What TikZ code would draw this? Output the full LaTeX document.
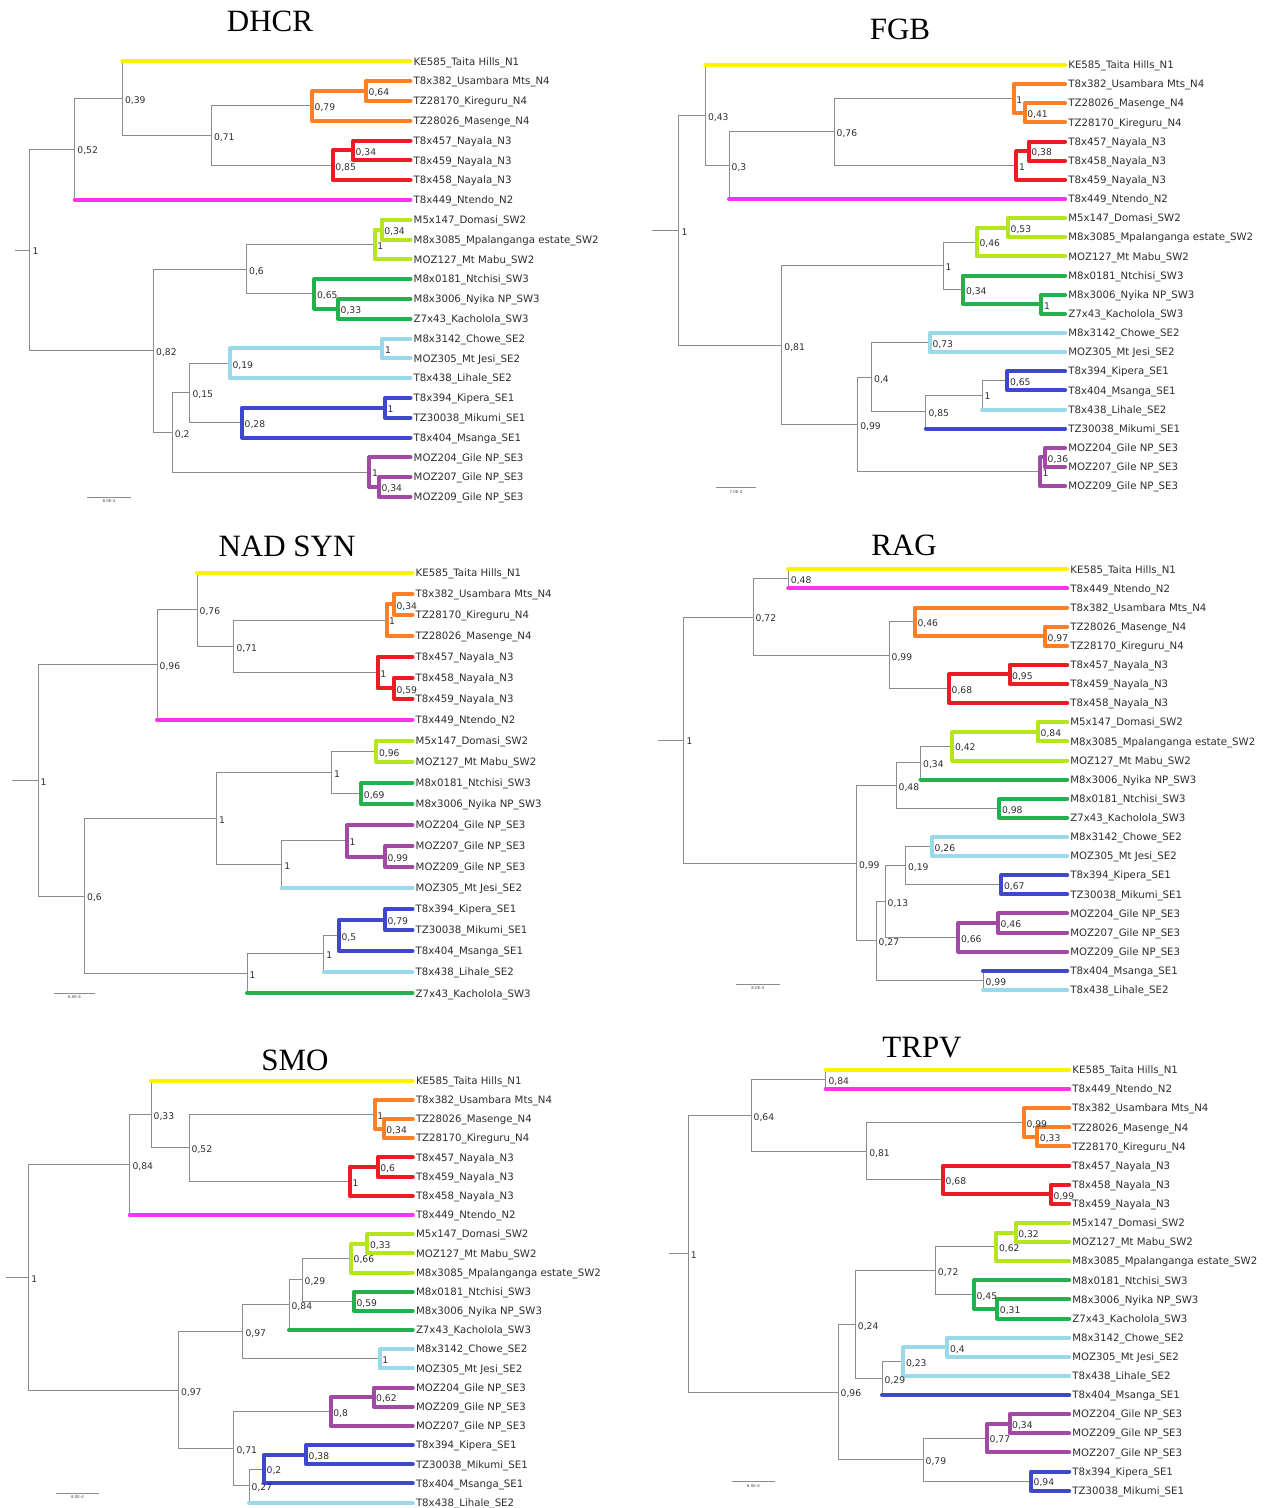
\documentclass[tikz,border=0pt]{standalone}
\usepackage{fontspec}
\setmainfont{DejaVu Sans}
\newfontfamily\titlefont{Liberation Serif}
\usetikzlibrary{backgrounds}
\definecolor{brgray}{HTML}{8C8C8C}
\definecolor{nY}{HTML}{FFF200}
\definecolor{nO}{HTML}{FF7F27}
\definecolor{nR}{HTML}{ED1C24}
\definecolor{nM}{HTML}{FF33EE}
\definecolor{nL}{HTML}{B5E61D}
\definecolor{nG}{HTML}{22B14C}
\definecolor{nS}{HTML}{99D9EA}
\definecolor{nB}{HTML}{3F48CC}
\definecolor{nP}{HTML}{A349A4}

\begin{document}
\begin{tikzpicture}[x=1pt,y=-1pt,
leaf/.style={anchor=west,inner sep=1.5pt,text=black!82,font=\fontsize{10.2}{12}\selectfont,text height=7.4pt,text depth=0pt},
sup/.style={anchor=west,xshift=1.5pt,yshift=-1.5pt,inner sep=1pt,text=black!82,font=\fontsize{9.2}{11}\selectfont,text height=6.6pt,text depth=0pt},
ttl/.style={font=\titlefont\fontsize{31}{34}\selectfont,inner sep=0pt},
br/.style={draw=brgray,line width=1pt},
clade/.style={line width=4pt,line cap=round,line join=round,shorten >=1.5pt},
cY/.style={clade,draw=nY}, cO/.style={clade,draw=nO}, cR/.style={clade,draw=nR},
cM/.style={clade,draw=nM}, cL/.style={clade,draw=nL}, cG/.style={clade,draw=nG},
cS/.style={clade,draw=nS}, cB/.style={clade,draw=nB}, cP/.style={clade,draw=nP},
scalebar/.style={font=\fontsize{4}{5}\selectfont,text=black!70,inner sep=1pt}]

\begin{scope}[on background layer]
 \fill[white] (0,0) rectangle (1273,1508);
\end{scope}
\useasboundingbox (0,0) rectangle (1273,1508);

% ---------------- DHCR ----------------
\node[ttl] (tD) at (270,21) {DHCR};
\foreach \lab [count=\i] in {KE585\_Taita Hills\_N1, T8x382\_Usambara Mts\_N4, TZ28170\_Kireguru\_N4, TZ28026\_Masenge\_N4, T8x457\_Nayala\_N3, T8x459\_Nayala\_N3, T8x458\_Nayala\_N3, T8x449\_Ntendo\_N2, M5x147\_Domasi\_SW2, M8x3085\_Mpalanganga estate\_SW2, MOZ127\_Mt Mabu\_SW2, M8x0181\_Ntchisi\_SW3, M8x3006\_Nyika NP\_SW3, Z7x43\_Kacholola\_SW3, M8x3142\_Chowe\_SE2, MOZ305\_Mt Jesi\_SE2, T8x438\_Lihale\_SE2, T8x394\_Kipera\_SE1, TZ30038\_Mikumi\_SE1, T8x404\_Msanga\_SE1, MOZ204\_Gile NP\_SE3, MOZ207\_Gile NP\_SE3, MOZ209\_Gile NP\_SE3}
 \node[leaf] (D\i) at (412,{61.3+19.8*(\i-1)}) {\lab};
\foreach \N/\X/\K/\V in {Da/29.8/10.531/1, Db/74.7/5.4375/{0,52}, Dc/122.4/2.875/{0,39}, De/211.4/4.75/{0,71}, Df/312/3.25/{0,79}, Dg/366/2.5/{0,64}, Dh/332.7/6.25/{0,85}, Di/353/5.5/{0,34}, Dj/153.5/15.625/{0,82}, Dk/246.5/11.5/{0,6}, Dl/374.7/10.25/1, Dm/381.6/9.5/{0,34}, Dn/314.3/12.75/{0,65}, Do/338/13.5/{0,33}, Dp/189.8/17.75/{0,15}, Dq/229.8/16.25/{0,19}, Dr/382.4/15.5/1, Ds/242/19.25/{0,28}, Dt/385/18.5/1, Du/369.4/21.75/1, Dv/378.8/22.5/{0,34}, Dw/172.2/19.75/{0,2}} {
 \coordinate (\N) at (\X,{61.3+19.8*(\K-1)});
 \node[sup] (\N l) at (\N) {\V};
}
\path (Da) ++(-15,0) coordinate (D0);
\begin{scope}[on background layer]
 \draw[br] (D0) -- (Da);
 \foreach \P/\C in {Da/Db, Da/Dj, Db/Dc, Db/D8, Dc/D1, Dc/De, De/Df, De/Dh, Dj/Dk, Dj/Dw, Dk/Dl, Dk/Dn, Dw/Dp, Dw/Du, Dp/Dq, Dp/Ds}
  \draw[br] (\P) |- (\C);
 \foreach \P/\C/\s in {Df/Dg/cO, Df/D4/cO, Dg/D2/cO, Dg/D3/cO, Dh/Di/cR, Dh/D7/cR, Di/D5/cR, Di/D6/cR, Dl/Dm/cL, Dl/D11/cL, Dm/D9/cL, Dm/D10/cL, Dn/D12/cG, Dn/Do/cG, Do/D13/cG, Do/D14/cG, Dq/Dr/cS, Dq/D17/cS, Dr/D15/cS, Dr/D16/cS, Ds/Dt/cB, Ds/D20/cB, Dt/D18/cB, Dt/D19/cB, Du/D21/cP, Du/Dv/cP, Dv/D22/cP, Dv/D23/cP}
  \draw[\s] (\P) |- (\C);
 \foreach \P/\C/\s in {Dc/D1/cY, Db/D8/cM}
  \draw[\s] (\P |- \C) -- (\C);
\end{scope}
\draw[br,line width=0.8pt] (87,497.3) -- node[scalebar,below=1pt] (sD) {8.0E-4} (131,497.3);

% ---------------- FGB ----------------
\node[ttl] (tF) at (900,29) {FGB};
\foreach \lab [count=\i] in {KE585\_Taita Hills\_N1, T8x382\_Usambara Mts\_N4, TZ28026\_Masenge\_N4, TZ28170\_Kireguru\_N4, T8x457\_Nayala\_N3, T8x458\_Nayala\_N3, T8x459\_Nayala\_N3, T8x449\_Ntendo\_N2, M5x147\_Domasi\_SW2, M8x3085\_Mpalanganga estate\_SW2, MOZ127\_Mt Mabu\_SW2, M8x0181\_Ntchisi\_SW3, M8x3006\_Nyika NP\_SW3, Z7x43\_Kacholola\_SW3, M8x3142\_Chowe\_SE2, MOZ305\_Mt Jesi\_SE2, T8x394\_Kipera\_SE1, T8x404\_Msanga\_SE1, T8x438\_Lihale\_SE2, TZ30038\_Mikumi\_SE1, MOZ204\_Gile NP\_SE3, MOZ207\_Gile NP\_SE3, MOZ209\_Gile NP\_SE3}
 \node[leaf] (F\i) at (1066.6,{65+19.14*(\i-1)}) {\lab};
\foreach \N/\X/\K/\V in {Fa/678.9/9.633/1, Fb/705.4/3.625/{0,43}, Fc/729/6.25/{0,3}, Fd/834/4.5/{0,76}, Fe/1013.6/2.75/1, Ff/1024.6/3.5/{0,41}, Fg/1016.4/6.25/1, Fh/1028.7/5.5/{0,38}, Fp/781.7/15.64/{0,81}, Fq/943/11.5/1, Fr/976.8/10.25/{0,46}, Fs/1008/9.5/{0,53}, Ft/963.3/12.75/{0,34}, Fu/1041.3/13.5/1, Fw/857.6/19.78/{0,99}, Fx/871.5/17.3125/{0,4}, Fy/929.9/15.5/{0,73}, Fz/925.8/19.125/{0,85}, FA/982/18.25/1, FB/1007.4/17.5/{0,65}, FC/1040/22.25/1, FD/1045/21.5/{0,36}} {
 \coordinate (\N) at (\X,{65+19.14*(\K-1)});
 \node[sup] (\N l) at (\N) {\V};
}
\path (Fa) ++(-27.4,0) coordinate (F0);
\begin{scope}[on background layer]
 \draw[br] (F0) -- (Fa);
 \foreach \P/\C in {Fa/Fb, Fa/Fp, Fb/F1, Fb/Fc, Fc/Fd, Fc/F8, Fd/Fe, Fd/Fg, Fp/Fq, Fp/Fw, Fq/Fr, Fq/Ft, Fw/Fx, Fw/FC, Fx/Fy, Fx/Fz, Fz/FA, Fz/F20, FA/FB, FA/F19}
  \draw[br] (\P) |- (\C);
 \foreach \P/\C/\s in {Fe/F2/cO, Fe/Ff/cO, Ff/F3/cO, Ff/F4/cO, Fg/Fh/cR, Fg/F7/cR, Fh/F5/cR, Fh/F6/cR, Fr/Fs/cL, Fr/F11/cL, Fs/F9/cL, Fs/F10/cL, Ft/F12/cG, Ft/Fu/cG, Fu/F13/cG, Fu/F14/cG, Fy/F15/cS, Fy/F16/cS, FB/F17/cB, FB/F18/cB, FC/FD/cP, FC/F23/cP, FD/F21/cP, FD/F22/cP}
  \draw[\s] (\P) |- (\C);
 \foreach \P/\C/\s in {Fb/F1/cY, Fc/F8/cM, FA/F19/cS, Fz/F20/cB}
  \draw[\s] (\P |- \C) -- (\C);
\end{scope}
\draw[br,line width=0.8pt] (715.6,487.7) -- node[scalebar,below=1pt] (sF) {7.0E-4} (756.4,487.7);

% ---------------- NAD SYN ----------------
\node[ttl] (tN) at (287,546) {NAD SYN};
\foreach \lab [count=\i] in {KE585\_Taita Hills\_N1, T8x382\_Usambara Mts\_N4, TZ28170\_Kireguru\_N4, TZ28026\_Masenge\_N4, T8x457\_Nayala\_N3, T8x458\_Nayala\_N3, T8x459\_Nayala\_N3, T8x449\_Ntendo\_N2, M5x147\_Domasi\_SW2, MOZ127\_Mt Mabu\_SW2, M8x0181\_Ntchisi\_SW3, M8x3006\_Nyika NP\_SW3, MOZ204\_Gile NP\_SE3, MOZ207\_Gile NP\_SE3, MOZ209\_Gile NP\_SE3, MOZ305\_Mt Jesi\_SE2, T8x394\_Kipera\_SE1, TZ30038\_Mikumi\_SE1, T8x404\_Msanga\_SE1, T8x438\_Lihale\_SE2, Z7x43\_Kacholola\_SW3}
 \node[leaf] (N\i) at (414,{572.7+21.03*(\i-1)}) {\lab};
\foreach \N/\X/\K/\V in {Na/38/10.875/1, Nb/157/5.375/{0,96}, Nc/197/2.75/{0,76}, Nd/233.9/4.5/{0,71}, Ne/386.5/3.25/1, Nf/393.9/2.5/{0,34}, Ng/377.6/5.75/1, Nh/393.9/6.5/{0,59}, Nk/84.5/16.375/{0,6}, Nl/216.3/12.6875/1, Nm/331.4/10.5/1, Nn/376.3/9.5/{0,96}, No/361.2/11.5/{0,69}, Np/281.6/14.875/1, Nq/347/13.75/1, Nt/384.9/14.5/{0,99}, Nr/247/20.0625/1, Nu/323.7/19.125/1, Nv/338.8/18.25/{0,5}, Nw/384.9/17.5/{0,79}} {
 \coordinate (\N) at (\X,{572.7+21.03*(\K-1)});
 \node[sup] (\N l) at (\N) {\V};
}
\path (Na) ++(-25.8,0) coordinate (N0);
\begin{scope}[on background layer]
 \draw[br] (N0) -- (Na);
 \foreach \P/\C in {Na/Nb, Na/Nk, Nb/Nc, Nb/N8, Nc/N1, Nc/Nd, Nd/Ne, Nd/Ng, Nk/Nl, Nk/Nr, Nl/Nm, Nl/Np, Nm/Nn, Nm/No, Np/Nq, Np/N16, Nr/Nu, Nr/N21, Nu/Nv, Nu/N20}
  \draw[br] (\P) |- (\C);
 \foreach \P/\C/\s in {Ne/Nf/cO, Ne/N4/cO, Nf/N2/cO, Nf/N3/cO, Ng/N5/cR, Ng/Nh/cR, Nh/N6/cR, Nh/N7/cR, Nn/N9/cL, Nn/N10/cL, No/N11/cG, No/N12/cG, Nq/N13/cP, Nq/Nt/cP, Nt/N14/cP, Nt/N15/cP, Nv/Nw/cB, Nv/N19/cB, Nw/N17/cB, Nw/N18/cB}
  \draw[\s] (\P) |- (\C);
 \foreach \P/\C/\s in {Nc/N1/cY, Nb/N8/cM, Np/N16/cS, Nu/N20/cS, Nr/N21/cG}
  \draw[\s] (\P |- \C) -- (\C);
\end{scope}
\draw[br,line width=0.8pt] (54.3,993.3) -- node[scalebar,below=1pt] (sN) {8.0E-4} (94.7,993.3);

% ---------------- RAG ----------------
\node[ttl] (tR) at (904,545) {RAG};
\foreach \lab [count=\i] in {KE585\_Taita Hills\_N1, T8x449\_Ntendo\_N2, T8x382\_Usambara Mts\_N4, TZ28026\_Masenge\_N4, TZ28170\_Kireguru\_N4, T8x457\_Nayala\_N3, T8x459\_Nayala\_N3, T8x458\_Nayala\_N3, M5x147\_Domasi\_SW2, M8x3085\_Mpalanganga estate\_SW2, MOZ127\_Mt Mabu\_SW2, M8x3006\_Nyika NP\_SW3, M8x0181\_Ntchisi\_SW3, Z7x43\_Kacholola\_SW3, M8x3142\_Chowe\_SE2, MOZ305\_Mt Jesi\_SE2, T8x394\_Kipera\_SE1, TZ30038\_Mikumi\_SE1, MOZ204\_Gile NP\_SE3, MOZ207\_Gile NP\_SE3, MOZ209\_Gile NP\_SE3, T8x404\_Msanga\_SE1, T8x438\_Lihale\_SE2}
 \node[leaf] (R\i) at (1068.7,{569.3+19.12*(\i-1)}) {\lab};
\foreach \N/\X/\K/\V in {Ra/683.8/9.9375/1, Rb/753/3.5/{0,72}, Rc/788.2/1.5/{0,48}, Rd/889/5.5/{0,99}, Re/914.8/3.75/{0,46}, Rf/1045/4.5/{0,97}, Rg/949/7.25/{0,68}, Rh/1009.5/6.5/{0,95}, Rj/856.4/16.375/{0,99}, Rk/896/12.3125/{0,48}, Rl/920.5/11.125/{0,34}, Rm/952.3/10.25/{0,42}, Rn/1038/9.5/{0,84}, Rp/999.3/13.5/{0,98}, Rq/876/20.4375/{0,27}, Rr/885/18.375/{0,13}, Rs/905.4/16.5/{0,19}, Rt/932/15.5/{0,26}, Ru/1001.3/17.5/{0,67}, Rv/958.4/20.25/{0,66}, Rw/998/19.5/{0,46}, Rz/983/22.5/{0,99}} {
 \coordinate (\N) at (\X,{569.3+19.12*(\K-1)});
 \node[sup] (\N l) at (\N) {\V};
}
\path (Ra) ++(-25.4,0) coordinate (R0);
\begin{scope}[on background layer]
 \draw[br] (R0) -- (Ra);
 \foreach \P/\C in {Ra/Rb, Ra/Rj, Rb/Rc, Rb/Rd, Rc/R1, Rc/R2, Rd/Re, Rd/Rg, Rj/Rk, Rj/Rq, Rk/Rl, Rk/Rp, Rl/Rm, Rl/R12, Rq/Rr, Rq/Rz, Rr/Rs, Rr/Rv, Rs/Rt, Rs/Ru, Rz/R22, Rz/R23}
  \draw[br] (\P) |- (\C);
 \foreach \P/\C/\s in {Re/R3/cO, Re/Rf/cO, Rf/R4/cO, Rf/R5/cO, Rg/Rh/cR, Rg/R8/cR, Rh/R6/cR, Rh/R7/cR, Rm/Rn/cL, Rm/R11/cL, Rn/R9/cL, Rn/R10/cL, Rp/R13/cG, Rp/R14/cG, Rt/R15/cS, Rt/R16/cS, Ru/R17/cB, Ru/R18/cB, Rv/Rw/cP, Rv/R21/cP, Rw/R19/cP, Rw/R20/cP}
  \draw[\s] (\P) |- (\C);
 \foreach \P/\C/\s in {Rc/R1/cY, Rc/R2/cM, Rl/R12/cG, Rz/R22/cB, Rz/R23/cS}
  \draw[\s] (\P |- \C) -- (\C);
\end{scope}
\draw[br,line width=0.8pt] (736,984) -- node[scalebar,below=1pt] (sR) {8.0E-4} (779.7,984);

% ---------------- SMO ----------------
\node[ttl] (tS) at (295,1060) {SMO};
\foreach \lab [count=\i] in {KE585\_Taita Hills\_N1, T8x382\_Usambara Mts\_N4, TZ28026\_Masenge\_N4, TZ28170\_Kireguru\_N4, T8x457\_Nayala\_N3, T8x459\_Nayala\_N3, T8x458\_Nayala\_N3, T8x449\_Ntendo\_N2, M5x147\_Domasi\_SW2, MOZ127\_Mt Mabu\_SW2, M8x3085\_Mpalanganga estate\_SW2, M8x0181\_Ntchisi\_SW3, M8x3006\_Nyika NP\_SW3, Z7x43\_Kacholola\_SW3, M8x3142\_Chowe\_SE2, MOZ305\_Mt Jesi\_SE2, MOZ204\_Gile NP\_SE3, MOZ209\_Gile NP\_SE3, MOZ207\_Gile NP\_SE3, T8x394\_Kipera\_SE1, TZ30038\_Mikumi\_SE1, T8x404\_Msanga\_SE1, T8x438\_Lihale\_SE2}
 \node[leaf] (S\i) at (414.3,{1080.7+19.18*(\i-1)}) {\lab};
\foreach \N/\X/\K/\V in {Sa/28.6/11.2578/1, Sb/129.8/5.375/{0,84}, Sc/151/2.75/{0,33}, Sd/189/4.5/{0,52}, Se/374.7/2.75/1, Sf/383.7/3.5/{0,34}, Sg/349.8/6.25/1, Sh/377.6/5.5/{0,6}, Sj/178.4/17.1406/{0,97}, Sk/242.9/14.0938/{0,97}, Sl/289/12.6875/{0,84}, Sm/302/11.375/{0,29}, Sn/351/10.25/{0,66}, So/367.3/9.5/{0,33}, Sp/353.9/12.5/{0,59}, Sq/379.6/15.5/1, Sr/233.9/20.1875/{0,71}, St/330.6/18.25/{0,8}, Su/373.5/17.5/{0,62}, Sv/249/22.125/{0,27}, Sw/264/21.25/{0,2}, Sx/306/20.5/{0,38}} {
 \coordinate (\N) at (\X,{1080.7+19.18*(\K-1)});
 \node[sup] (\N l) at (\N) {\V};
}
\path (Sa) ++(-22.6,0) coordinate (S0);
\begin{scope}[on background layer]
 \draw[br] (S0) -- (Sa);
 \foreach \P/\C in {Sa/Sb, Sa/Sj, Sb/Sc, Sb/S8, Sc/S1, Sc/Sd, Sd/Se, Sd/Sg, Sj/Sk, Sj/Sr, Sk/Sl, Sk/Sq, Sl/Sm, Sl/S14, Sm/Sn, Sm/Sp, Sr/St, Sr/Sv, Sv/Sw, Sv/S23}
  \draw[br] (\P) |- (\C);
 \foreach \P/\C/\s in {Se/S2/cO, Se/Sf/cO, Sf/S3/cO, Sf/S4/cO, Sg/Sh/cR, Sg/S7/cR, Sh/S5/cR, Sh/S6/cR, Sn/So/cL, Sn/S11/cL, So/S9/cL, So/S10/cL, Sp/S12/cG, Sp/S13/cG, Sq/S15/cS, Sq/S16/cS, St/Su/cP, St/S19/cP, Su/S17/cP, Su/S18/cP, Sw/Sx/cB, Sw/S22/cB, Sx/S20/cB, Sx/S21/cB}
  \draw[\s] (\P) |- (\C);
 \foreach \P/\C/\s in {Sc/S1/cY, Sb/S8/cM, Sl/S14/cG, Sv/S23/cS}
  \draw[\s] (\P |- \C) -- (\C);
\end{scope}
\draw[br,line width=0.8pt] (56,1493.3) -- node[scalebar,below=1pt] (sS) {8.0E-4} (99,1493.3);

% ---------------- TRPV ----------------
\node[ttl] (tT) at (922,1048) {TRPV};
\foreach \lab [count=\i] in {KE585\_Taita Hills\_N1, T8x449\_Ntendo\_N2, T8x382\_Usambara Mts\_N4, TZ28026\_Masenge\_N4, TZ28170\_Kireguru\_N4, T8x457\_Nayala\_N3, T8x458\_Nayala\_N3, T8x459\_Nayala\_N3, M5x147\_Domasi\_SW2, MOZ127\_Mt Mabu\_SW2, M8x3085\_Mpalanganga estate\_SW2, M8x0181\_Ntchisi\_SW3, M8x3006\_Nyika NP\_SW3, Z7x43\_Kacholola\_SW3, M8x3142\_Chowe\_SE2, MOZ305\_Mt Jesi\_SE2, T8x438\_Lihale\_SE2, T8x404\_Msanga\_SE1, MOZ204\_Gile NP\_SE3, MOZ209\_Gile NP\_SE3, MOZ207\_Gile NP\_SE3, T8x394\_Kipera\_SE1, TZ30038\_Mikumi\_SE1}
 \node[leaf] (T\i) at (1070.7,{1070+19.12*(\i-1)}) {\lab};
\foreach \N/\X/\K/\V in {Ta/688.2/10.609/1, Tb/751/3.375/{0,64}, Tc/825.8/1.5/{0,84}, Td/866.6/5.25/{0,81}, Te/1023.8/3.75/{0,99}, Tf/1037.2/4.5/{0,33}, Tg/943/6.75/{0,68}, Th/1051/7.5/{0,99}, Tj/838/17.8438/{0,96}, Tk/855.2/14.3125/{0,24}, Tl/935.2/11.5/{0,72}, Tm/996.4/10.25/{0,62}, Tn/1015.6/9.5/{0,32}, To/974/12.75/{0,45}, Tp/997.2/13.5/{0,31}, Tq/882/17.125/{0,29}, Tr/903.3/16.25/{0,23}, Ts/947.4/15.5/{0,4}, Tt/923/21.375/{0,79}, Tu/987/20.25/{0,77}, Tv/1009.5/19.5/{0,34}, Tw/1031/22.5/{0,94}} {
 \coordinate (\N) at (\X,{1070+19.12*(\K-1)});
 \node[sup] (\N l) at (\N) {\V};
}
\path (Ta) ++(-19.5,0) coordinate (T0);
\begin{scope}[on background layer]
 \draw[br] (T0) -- (Ta);
 \foreach \P/\C in {Ta/Tb, Ta/Tj, Tb/Tc, Tb/Td, Tc/T1, Tc/T2, Td/Te, Td/Tg, Tj/Tk, Tj/Tt, Tk/Tl, Tk/Tq, Tl/Tm, Tl/To, Tq/Tr, Tq/T18, Tt/Tu, Tt/Tw}
  \draw[br] (\P) |- (\C);
 \foreach \P/\C/\s in {Te/T3/cO, Te/Tf/cO, Tf/T4/cO, Tf/T5/cO, Tg/T6/cR, Tg/Th/cR, Th/T7/cR, Th/T8/cR, Tm/Tn/cL, Tm/T11/cL, Tn/T9/cL, Tn/T10/cL, To/T12/cG, To/Tp/cG, Tp/T13/cG, Tp/T14/cG, Tr/Ts/cS, Tr/T17/cS, Ts/T15/cS, Ts/T16/cS, Tu/Tv/cP, Tu/T21/cP, Tv/T19/cP, Tv/T20/cP, Tw/T22/cB, Tw/T23/cB}
  \draw[\s] (\P) |- (\C);
 \foreach \P/\C/\s in {Tc/T1/cY, Tc/T2/cM, Tq/T18/cB}
  \draw[\s] (\P |- \C) -- (\C);
\end{scope}
\draw[br,line width=0.8pt] (732,1481.7) -- node[scalebar,below=1pt] (sT) {8.0E-4} (774.8,1481.7);

\end{tikzpicture}
\end{document}
